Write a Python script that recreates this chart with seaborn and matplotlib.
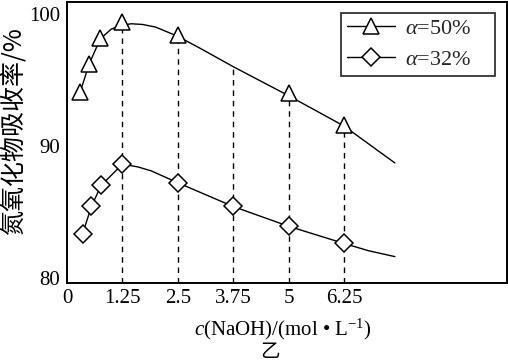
import matplotlib
matplotlib.use("Agg")
import matplotlib.pyplot as plt
import seaborn as sns
import pandas as pd
from matplotlib.lines import Line2D

# ---- data ----
tri_x = [0.3, 0.5, 0.75, 1.25, 2.5, 5.0, 6.25]
tri_y = [94.1, 96.2, 98.2, 99.4, 98.4, 94.0, 91.6]
dia_x = [0.35, 0.55, 0.77, 1.25, 2.5, 3.75, 5.0, 6.25]
dia_y = [83.3, 85.4, 87.0, 88.6, 87.2, 85.4, 83.9, 82.6]

# trend curves
up_cx = [0.3, 0.5, 0.75, 1.0, 1.25, 1.45, 1.7, 2.0, 2.5, 3.0, 3.75, 5.0, 6.25, 7.4]
up_cy = [94.1, 96.2, 98.1, 98.85, 99.15, 99.25, 99.2, 99.0, 98.3, 97.4, 96.0, 93.8, 91.5, 88.7]
lo_cx = [0.35, 0.55, 0.77, 1.25, 1.6, 1.9, 2.5, 3.75, 5.0, 6.25, 6.8, 7.4]
lo_cy = [83.3, 85.4, 87.0, 88.6, 88.4, 88.1, 87.2, 85.4, 83.9, 82.6, 82.05, 81.6]

# dashed guide lines: x positions and the upper-curve heights they reach
drop_x = [1.25, 2.5, 3.75, 5.0, 6.25]
drop_top = [99.1, 98.3, 96.0, 93.8, 91.5]

xticks = [0, 1.25, 2.5, 3.75, 5, 6.25]
xtick_labels = ["0", "1.25", "2.5", "3.75", "5", "6.25"]
yticks = [80, 90, 100]
legend_labels = [r"$\alpha$=50%", r"$\alpha$=32%"]

# ---- style ----
sns.set_theme(style="white")
plt.rcParams["font.family"] = ["Liberation Serif", "DejaVu Serif"]
plt.rcParams["mathtext.fontset"] = "custom"
plt.rcParams["mathtext.rm"] = "Liberation Serif"
plt.rcParams["mathtext.it"] = "Liberation Serif:italic"
plt.rcParams["mathtext.bf"] = "Liberation Serif:bold"

fig = plt.figure(figsize=(5.08, 3.64), dpi=100)
ax = fig.add_axes([67 / 508, 1 - 283 / 364, 440 / 508, 281 / 364])

up_df = pd.DataFrame({"x": up_cx, "y": up_cy})
lo_df = pd.DataFrame({"x": lo_cx, "y": lo_cy})
sns.lineplot(data=up_df, x="x", y="y", ax=ax, color="black", lw=1.0,
             sort=False, estimator=None, zorder=2)
sns.lineplot(data=lo_df, x="x", y="y", ax=ax, color="black", lw=1.0,
             sort=False, estimator=None, zorder=2)

ymin = 79.6
ax.vlines(drop_x, ymin, drop_top, colors="black", linestyles=(0, (4, 3.5)),
          lw=1.0, zorder=1)

tri_df = pd.DataFrame({"x": tri_x, "y": tri_y})
dia_df = pd.DataFrame({"x": dia_x, "y": dia_y})
ax.plot(tri_df["x"], tri_df["y"], ls="none", marker="^", ms=11,
        mfc="white", mec="black", mew=1.1, zorder=3)
ax.plot(dia_df["x"], dia_df["y"], ls="none", marker="D", ms=9.5,
        mfc="white", mec="black", mew=1.1, zorder=3)

ax.set_xlim(0, 9.93)
ax.set_ylim(ymin, 100.9)
ax.set_xticks(xticks)
ax.set_xticklabels(xtick_labels)
ax.set_yticks(yticks)
ax.tick_params(axis="both", length=0, labelsize=15, colors="black")
ax.tick_params(axis="x", pad=4)
ax.tick_params(axis="y", pad=5)
for s in ax.spines.values():
    s.set_color("black")
    s.set_linewidth(1.4)

ax.set_xlabel(r"$c$(NaOH)/(mol • L$^{-1}$)", fontsize=15, color="black")
ax.xaxis.set_label_coords((283 - 67) / 440, (283 - 329) / 281)
ax.xaxis.label.set_va("center")

ax.set_ylabel("氮氧化物吸收率/%", fontsize=18, color="black",
              family=["Noto Sans CJK SC", "DejaVu Sans"])
ax.yaxis.set_label_coords((14 - 67) / 440, (283 - 131) / 281)
ax.yaxis.label.set_va("center")
ax.yaxis.label.set_ha("center")

fig.text(270 / 508, 1 - 352 / 364, "乙", fontsize=14, ha="center", va="center",
         family=["Noto Sans CJK SC", "DejaVu Sans"], color="black")

handles = [
    Line2D([], [], color="black", lw=1.0, marker="^", ms=11, mfc="white",
           mec="black", mew=1.1),
    Line2D([], [], color="black", lw=1.0, marker="D", ms=9.5, mfc="white",
           mec="black", mew=1.1),
]
leg = ax.legend(handles, legend_labels, loc="upper left", mode="expand",
                bbox_to_anchor=((341 - 67) / 440, 0, 154 / 440, (283 - 13) / 281),
                borderaxespad=0, fontsize=16, frameon=True, fancybox=False,
                handlelength=2.2, handletextpad=0.45, labelspacing=0.47,
                borderpad=0.25)
leg.get_frame().set_edgecolor("black")
leg.get_frame().set_linewidth(1.3)

fig.savefig("out.png", dpi=100)
